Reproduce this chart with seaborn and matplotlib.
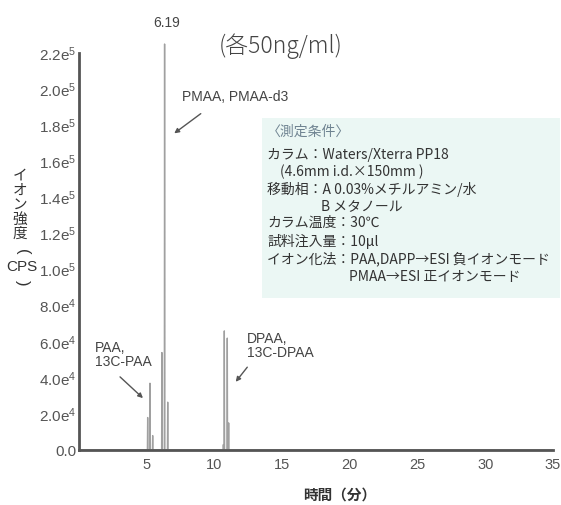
import matplotlib
matplotlib.use("Agg")
import matplotlib.pyplot as plt
import seaborn as sns
import pandas as pd
from matplotlib.patches import Rectangle, FancyArrowPatch

# ---------------- data ----------------
time_min = [0.0, 5.05, 5.07, 5.09, 5.22, 5.24, 5.26, 5.42, 5.44, 5.46,
            6.10, 6.12, 6.14, 6.30, 6.32, 6.34, 6.53, 6.55, 6.57,
            10.64, 10.66, 10.68, 10.71, 10.73, 10.75, 10.93, 10.95, 10.97,
            11.03, 11.05, 11.07, 35.0]
intensity = [0, 0, 1.8e4, 0, 0, 3.7e4, 0, 0, 8.0e3, 0,
             0, 5.4e4, 0, 0, 2.25e5, 0, 0, 2.65e4, 0,
             0, 3.0e3, 0, 0, 6.6e4, 0, 0, 6.2e4, 0,
             0, 1.5e4, 0, 0]
x_ticks = [5, 10, 15, 20, 25, 30, 35]
y_ticks = [0, 2e4, 4e4, 6e4, 8e4, 1e5, 1.2e5, 1.4e5, 1.6e5, 1.8e5, 2.0e5, 2.2e5]
y_tick_labels = ["0.0", "2.0e$^{4}$", "4.0e$^{4}$", "6.0e$^{4}$", "8.0e$^{4}$",
                 "1.0e$^{5}$", "1.2e$^{5}$", "1.4e$^{5}$", "1.6e$^{5}$",
                 "1.8e$^{5}$", "2.0e$^{5}$", "2.2e$^{5}$"]
peak_label = "6.19"
title_text = "(各50ng/ml)"
x_label = "時間（分）"
y_label_text = "イ\nオ\nン\n強\n度"
conditions = [
    ("〈測定条件〉", 0),
    ("カラム：Waters/Xterra PP18", 0),
    ("(4.6mm i.d.×150mm )", 13),
    ("移動相：A 0.03%メチルアミン/水", 0),
    ("B メタノール", 54),
    ("カラム温度：30℃", 0),
    ("試料注入量：10μl", 0),
    ("イオン化法：PAA,DAPP→ESI 負イオンモード", 0),
    ("PMAA→ESI 正イオンモード", 82),
]

df = pd.DataFrame({"time": time_min, "cps": intensity})

# ---------------- style ----------------
sns.set_theme(style="white")
plt.rcParams['font.family'] = ['Noto Sans CJK JP', 'DejaVu Sans']
plt.rcParams['mathtext.fontset'] = 'custom'
plt.rcParams['mathtext.rm'] = 'Liberation Sans'
plt.rcParams['mathtext.default'] = 'rm'

W, H = 561, 505
fig = plt.figure(figsize=(W / 100, H / 100), dpi=100)
fig.patch.set_facecolor("white")

def fx(px):
    return px / W

def fy(py):
    return 1 - py / H

ax = fig.add_axes([fx(79), fy(450), fx(553) - fx(79), fy(35) - fy(450)])
ax.set_facecolor("none")

# condition box background (figure coordinates)
fig.patches.append(Rectangle((fx(262), fy(298)), fx(560) - fx(262), fy(118) - fy(298),
                             transform=fig.transFigure, facecolor="#ebf7f4",
                             edgecolor="none", zorder=0))

sns.lineplot(data=df, x="time", y="cps", estimator=None, sort=False,
             color="#a0a0a0", linewidth=1.0, ax=ax)

ax.set_xlim(0, 35)
ax.set_ylim(0, 2.3e5)
ax.set_xticks(x_ticks)
ax.set_xticklabels([str(t) for t in x_ticks], family="Liberation Sans", fontsize=10.5, color="#555555")
ax.set_yticks(y_ticks)
ax.set_yticklabels(y_tick_labels, family="Liberation Sans", fontsize=11, color="#555555")
ax.set_xlabel("")
ax.set_ylabel("")
ax.tick_params(axis="x", direction="in", length=5, width=1.5, color="#444444", pad=6)
ax.tick_params(axis="y", direction="in", length=5, width=1.5, color="#444444", pad=2)

for s in ["top", "right"]:
    ax.spines[s].set_visible(False)
for s in ["left", "bottom"]:
    ax.spines[s].set_color("#555555")
    ax.spines[s].set_linewidth(2)
ax.spines["left"].set_bounds(0, 2.2e5)

# texts
fig.text(fx(167), fy(23), peak_label, ha="center", va="center", fontsize=10,
         family="Liberation Sans", color="#444444")
fig.text(fx(281), fy(46), title_text, ha="center", va="center", fontsize=16.5,
         color="#444444", fontweight="light")

fig.text(fx(182), fy(97), "PMAA, PMAA-d3", ha="left", va="center", fontsize=10,
         family="Liberation Sans", color="#444444")
fig.text(fx(95), fy(355), "PAA,\n13C-PAA", ha="left", va="center", fontsize=10,
         family="Liberation Sans", color="#444444", linespacing=0.95)
fig.text(fx(247), fy(346), "DPAA,\n13C-DPAA", ha="left", va="center", fontsize=10,
         family="Liberation Sans", color="#444444", linespacing=0.95)

arrowprops = dict(arrowstyle="-|>", color="#555555", lw=1.0, mutation_scale=7)
fig.add_artist(FancyArrowPatch((fx(203), fy(112)), (fx(172), fy(135)),
               transform=fig.transFigure, **arrowprops))
fig.add_artist(FancyArrowPatch((fx(118), fy(375)), (fx(145), fy(400)),
               transform=fig.transFigure, **arrowprops))
fig.add_artist(FancyArrowPatch((fx(249), fy(365)), (fx(234), fy(384)),
               transform=fig.transFigure, **arrowprops))

# conditions
line_y = [132, 155, 172, 189, 206, 223, 241, 259, 277]
for (txt, indent), yy in zip(conditions, line_y):
    col = "#6f8391" if txt.startswith("〈") else "#333333"
    fig.text(fx(267 + indent), fy(yy), txt, ha="left", va="center", fontsize=10, color=col)

# y label (vertical)
fig.text(fx(20), fy(205), y_label_text, ha="center", va="center", fontsize=10.5,
         color="#333333", linespacing=1.05)
fig.text(fx(22), fy(252), "(", ha="center", va="center", fontsize=12, rotation=-90,
         family="Liberation Sans", color="#333333")
fig.text(fx(22), fy(267), "CPS", ha="center", va="center", fontsize=11,
         family="Liberation Sans", color="#333333")
fig.text(fx(22), fy(283), ")", ha="center", va="center", fontsize=12, rotation=-90,
         family="Liberation Sans", color="#333333")

fig.text(fx(340), fy(495), x_label, ha="center", va="center", fontsize=10.5,
         fontweight="bold", color="#333333")

fig.savefig("out.png", dpi=100, facecolor="white")
